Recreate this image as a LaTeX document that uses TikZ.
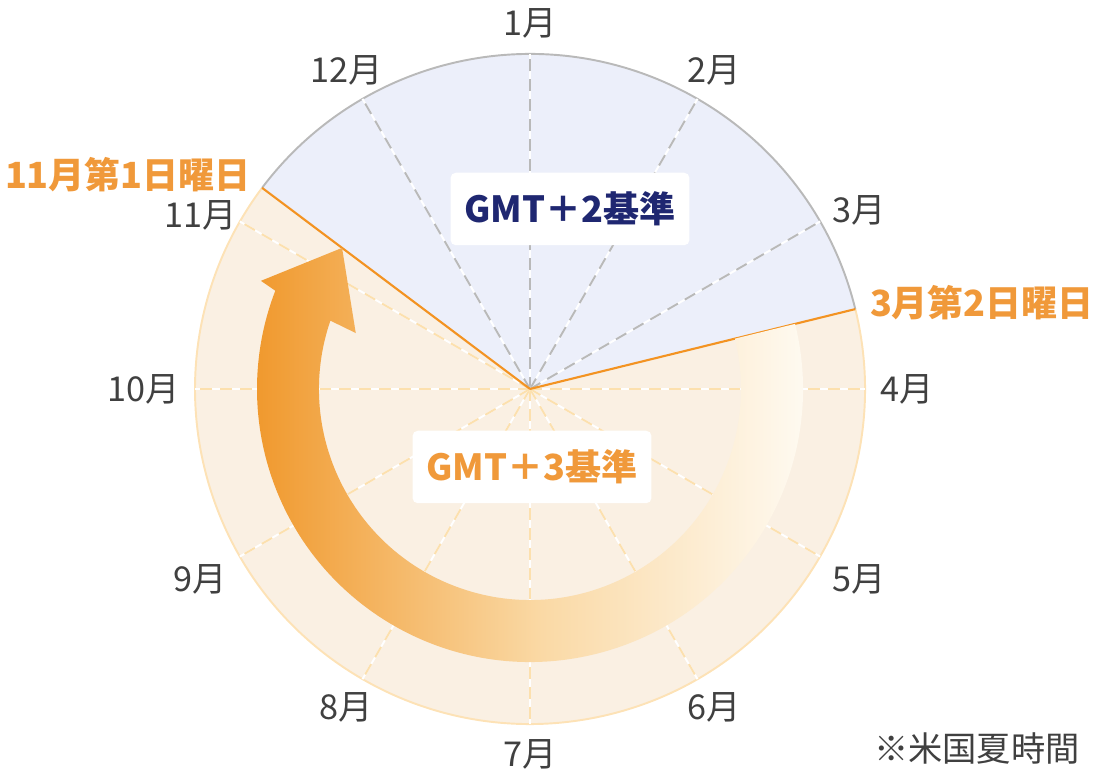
\documentclass[tikz,border=0pt]{standalone}
\usepackage{fontspec}
\setmainfont{Noto Sans CJK JP}
\usepackage{tikz}
\usetikzlibrary{calc}
\definecolor{inkc}{HTML}{404040}
\definecolor{navyc}{HTML}{1F2771}
\definecolor{dstc}{HTML}{F0993A}
\definecolor{lineor}{HTML}{F39322}
\definecolor{winterbg}{HTML}{ECEFFA}
\definecolor{summerbg}{HTML}{FAF0E3}
\definecolor{rimgray}{HTML}{B9B9B9}
\definecolor{rimor}{HTML}{FDE2B6}
\definecolor{spokeor}{HTML}{FCE0AE}
\definecolor{arrl}{HTML}{F0982C}
\definecolor{arrm}{HTML}{FAD9A5}
\definecolor{arrr}{HTML}{FFFDF8}
\tikzset{
  month/.style={font=\fontsize{19.5}{19.5}\selectfont,text=inkc,inner sep=0pt},
  switchlbl/.style={font=\bfseries\fontsize{20.5}{20.5}\selectfont,text=dstc,inner sep=0pt},
  zonebox/.style={fill=white,rounded corners=3pt,minimum width=4.78cm,minimum height=1.45cm,font=\bfseries\fontsize{20.5}{20.5}\selectfont},
  spoke/.style={dash pattern=on 6.8pt off 4.5pt,line width=1.1pt},
  sep/.style={lineor,line width=1.2pt}
}
\begin{document}
\begin{tikzpicture}[x=0.02cm,y=0.02cm]
\useasboundingbox (-530,-391) rectangle (570,389);
\coordinate (O) at (0,0);
\coordinate (dstOn) at (13.8:335);
\coordinate (dstOff) at (143.1:335);
\fill[summerbg] (O) -- (dstOn) arc[start angle=13.8,end angle=-216.9,radius=335] -- cycle;
\fill[winterbg] (O) -- (dstOn) arc[start angle=13.8,end angle=143.1,radius=335] -- cycle;
\draw[rimor,line width=1.1pt] (dstOn) arc[start angle=13.8,end angle=-216.9,radius=335];
\draw[rimgray,line width=1.1pt] (dstOn) arc[start angle=13.8,end angle=143.1,radius=335];
\foreach \m/\dy in {1/0,2/0,3/-12,4/0,5/0,6/0,7/0,8/0,9/0,10/0,11/-17,12/0}{
 \pgfmathtruncatemacro\ang{mod(480-30*\m,360)}
 \pgfmathtruncatemacro\anc{mod(\ang+180,360)}
 \coordinate (s\m) at (\ang:335);
 \draw[white,line width=1.1pt] (O) -- (s\m);
 \ifnum\ang>13 \ifnum\ang<143 \def\sc{rimgray}\else\def\sc{spokeor}\fi\else\def\sc{spokeor}\fi
 \draw[spoke,\sc] (O) -- (s\m);
 \node[month,anchor=\anc] (lbl\m) at ($(\ang:350)+(0,\dy)$) {\m 月};}
\draw[sep] (O) -- (dstOn);
\draw[sep] (O) -- (dstOff);
\shade[left color=arrl,right color=arrr,middle color=arrm]
 (13.8:273) arc[start angle=13.8,end angle=-201.1,radius=273] -- (-201.9:290) -- (143.1:235)
 -- (-197.8:183) -- (-198.9:211) arc[start angle=-198.9,end angle=13.8,radius=211] -- cycle;
\node[zonebox,text=navyc] (gmtTwo) at (40,180) {GMT＋2基準};
\node[zonebox,text=dstc] (gmtThree) at (2,-78) {GMT＋3基準};
\node[switchlbl] (offLbl) at (-402,214) {11月第1日曜日};
\node[switchlbl] (onLbl) at (452,86) {3月第2日曜日};
\node[month] (note) at (447,-359) {※米国夏時間};
\end{tikzpicture}
\end{document}
